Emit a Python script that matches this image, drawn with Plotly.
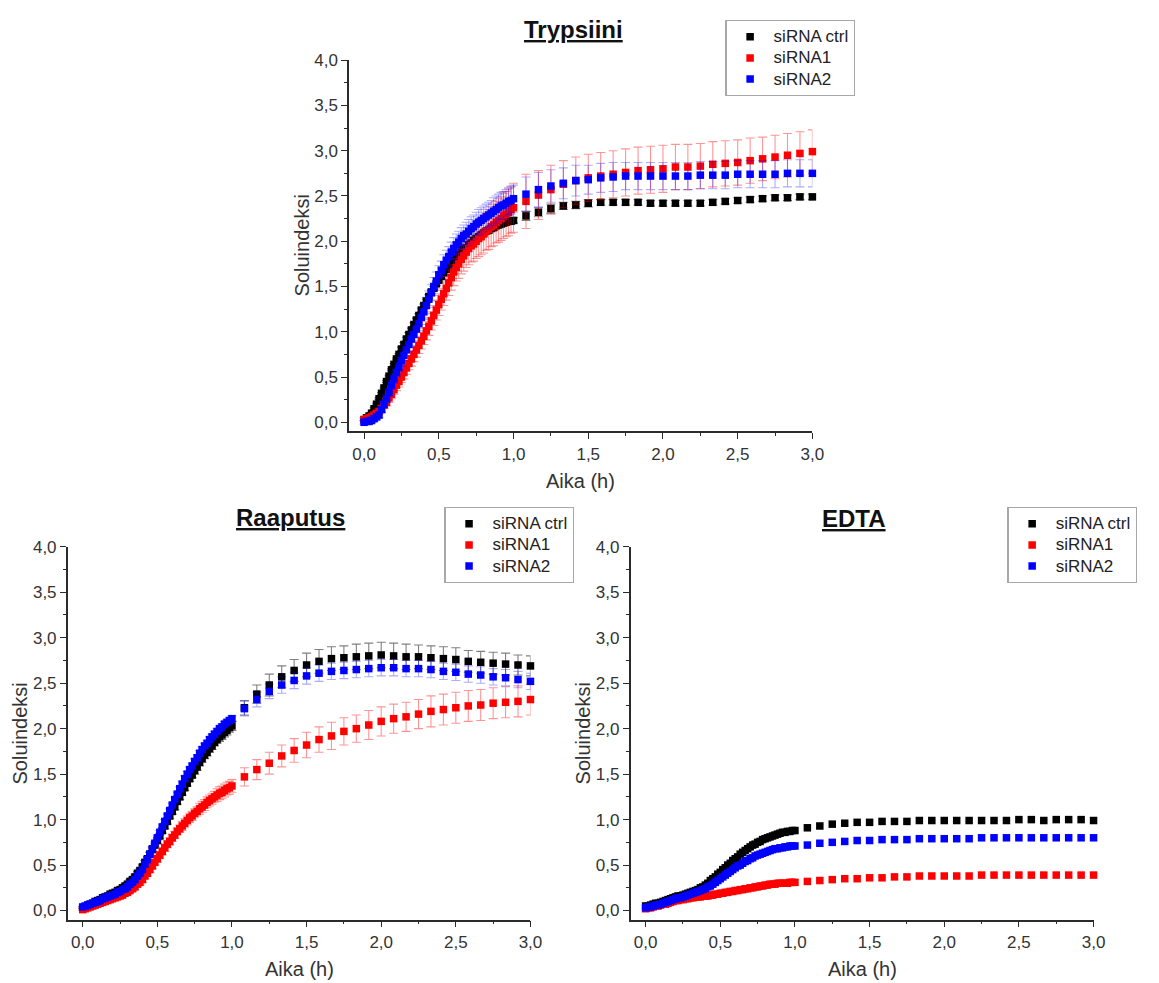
import plotly.graph_objects as go

# ---------------- data ----------------
DENSE_MIN = list(range(0, 61))          # 1-min sweeps during first hour
SPARSE_MIN = list(range(65, 181, 5))    # 5-min sweeps afterwards
TIME_H = [m / 60 for m in DENSE_MIN + SPARSE_MIN]

SERIES_NAMES = ["siRNA ctrl", "siRNA1", "siRNA2"]
PANEL_TITLES = ["Trypsiini", "Raaputus", "EDTA"]
X_LABEL = "Aika (h)"
Y_LABEL = "Soluindeksi"

# --- Trypsiini ---
TRYP_CTRL = [0.03, 0.05, 0.07, 0.10, 0.15, 0.20, 0.26, 0.32, 0.38, 0.45,
             0.51, 0.58, 0.64, 0.70, 0.75, 0.81, 0.86, 0.92, 0.97, 1.02,
             1.08, 1.13, 1.18, 1.24, 1.29, 1.34, 1.39, 1.44, 1.48, 1.53,
             1.57, 1.61, 1.65, 1.69, 1.72, 1.76, 1.79, 1.82, 1.85, 1.88,
             1.91, 1.93, 1.96, 1.98, 2.01, 2.03, 2.05, 2.07, 2.09, 2.11,
             2.12, 2.14, 2.15, 2.17, 2.18, 2.19, 2.20, 2.21, 2.22, 2.22,
             2.23,
             2.28, 2.32, 2.36, 2.39, 2.40, 2.42, 2.43, 2.43, 2.43, 2.43, 2.42, 2.42,
             2.42, 2.42, 2.42, 2.43, 2.44, 2.45, 2.46, 2.47, 2.48, 2.48, 2.49, 2.49]
TRYP_CTRL_ERR = [0.01, 0.01, 0.01, 0.01, 0.01, 0.01, 0.01, 0.01, 0.01, 0.01,
                 0.01, 0.01, 0.01, 0.01, 0.01, 0.02, 0.02, 0.02, 0.02, 0.02,
                 0.02, 0.02, 0.02, 0.02, 0.02, 0.02, 0.02, 0.02, 0.02, 0.02,
                 0.02, 0.02, 0.02, 0.02, 0.02, 0.03, 0.03, 0.03, 0.03, 0.03,
                 0.03, 0.03, 0.03, 0.03, 0.03, 0.03, 0.03, 0.03, 0.03, 0.03,
                 0.03, 0.03, 0.03, 0.03, 0.03, 0.03, 0.03, 0.03, 0.03, 0.03,
                 0.03,
                 0.05, 0.05, 0.05, 0.04, 0.04, 0.04, 0.03, 0.03, 0.03, 0.03, 0.03, 0.03,
                 0.03, 0.03, 0.03, 0.03, 0.03, 0.03, 0.03, 0.03, 0.03, 0.03, 0.03, 0.03]
TRYP_SI1 = [0.03, 0.04, 0.05, 0.06, 0.08, 0.10, 0.12, 0.15, 0.19, 0.22,
            0.27, 0.31, 0.36, 0.41, 0.45, 0.50, 0.55, 0.60, 0.65, 0.70,
            0.75, 0.80, 0.85, 0.90, 0.95, 1.01, 1.06, 1.12, 1.18, 1.24,
            1.30, 1.36, 1.42, 1.48, 1.54, 1.60, 1.66, 1.71, 1.75, 1.80,
            1.84, 1.88, 1.92, 1.95, 1.97, 2.00, 2.03, 2.05, 2.08, 2.11,
            2.13, 2.16, 2.18, 2.21, 2.23, 2.25, 2.28, 2.30, 2.32, 2.35,
            2.37,
            2.44, 2.51, 2.57, 2.63, 2.67, 2.70, 2.72, 2.74, 2.76, 2.78, 2.79, 2.80,
            2.82, 2.82, 2.83, 2.85, 2.86, 2.87, 2.89, 2.91, 2.93, 2.95, 2.97, 2.99]
TRYP_SI1_ERR = [0.02, 0.02, 0.02, 0.03, 0.03, 0.03, 0.03, 0.04, 0.04, 0.04,
                0.05, 0.05, 0.05, 0.06, 0.06, 0.06, 0.07, 0.07, 0.07, 0.08,
                0.08, 0.08, 0.09, 0.09, 0.09, 0.10, 0.10, 0.10, 0.11, 0.11,
                0.12, 0.12, 0.13, 0.13, 0.14, 0.14, 0.15, 0.15, 0.16, 0.16,
                0.17, 0.17, 0.18, 0.18, 0.19, 0.19, 0.20, 0.20, 0.21, 0.21,
                0.22, 0.22, 0.23, 0.23, 0.24, 0.24, 0.25, 0.25, 0.26, 0.26,
                0.27,
                0.30, 0.27, 0.27, 0.26, 0.26, 0.26, 0.26, 0.26, 0.26, 0.26, 0.26, 0.26,
                0.25, 0.25, 0.25, 0.25, 0.25, 0.25, 0.25, 0.24, 0.24, 0.24, 0.24, 0.24]
TRYP_SI2 = [0.00, 0.01, 0.01, 0.02, 0.04, 0.06, 0.08, 0.14, 0.20, 0.26,
            0.33, 0.41, 0.48, 0.55, 0.61, 0.68, 0.74, 0.80, 0.86, 0.92,
            0.97, 1.03, 1.09, 1.16, 1.22, 1.29, 1.36, 1.43, 1.50, 1.56,
            1.63, 1.68, 1.74, 1.79, 1.83, 1.88, 1.92, 1.96, 1.99, 2.03,
            2.06, 2.08, 2.11, 2.14, 2.16, 2.19, 2.21, 2.23, 2.25, 2.27,
            2.29, 2.31, 2.33, 2.35, 2.37, 2.39, 2.40, 2.42, 2.44, 2.45,
            2.47,
            2.52, 2.57, 2.61, 2.64, 2.67, 2.68, 2.70, 2.71, 2.72, 2.72, 2.72, 2.72,
            2.72, 2.72, 2.73, 2.73, 2.73, 2.74, 2.74, 2.74, 2.74, 2.75, 2.75, 2.75]
TRYP_SI2_ERR = [0.02, 0.02, 0.02, 0.02, 0.03, 0.03, 0.03, 0.03, 0.04, 0.04,
                0.04, 0.05, 0.05, 0.05, 0.05, 0.06, 0.06, 0.06, 0.07, 0.07,
                0.07, 0.08, 0.08, 0.08, 0.08, 0.09, 0.09, 0.09, 0.10, 0.10,
                0.10, 0.10, 0.11, 0.11, 0.11, 0.11, 0.12, 0.12, 0.12, 0.12,
                0.12, 0.13, 0.13, 0.13, 0.13, 0.13, 0.14, 0.14, 0.14, 0.14,
                0.14, 0.14, 0.15, 0.15, 0.15, 0.15, 0.15, 0.15, 0.15, 0.15,
                0.15,
                0.19, 0.19, 0.18, 0.17, 0.17, 0.16, 0.16, 0.16, 0.15, 0.15, 0.15, 0.15,
                0.15, 0.15, 0.15, 0.15, 0.15, 0.15, 0.15, 0.15, 0.15, 0.15, 0.15, 0.15]

# --- Raaputus ---
RAAP_CTRL = [0.03, 0.04, 0.06, 0.07, 0.08, 0.10, 0.11, 0.12, 0.14, 0.15,
             0.16, 0.18, 0.19, 0.20, 0.22, 0.23, 0.25, 0.27, 0.29, 0.32,
             0.34, 0.37, 0.41, 0.44, 0.48, 0.53, 0.57, 0.62, 0.67, 0.72,
             0.77, 0.82, 0.88, 0.93, 0.98, 1.04, 1.09, 1.14, 1.20, 1.25,
             1.30, 1.35, 1.40, 1.45, 1.49, 1.54, 1.58, 1.63, 1.67, 1.71,
             1.74, 1.78, 1.81, 1.85, 1.88, 1.91, 1.93, 1.96, 1.98, 2.01,
             2.03,
             2.23, 2.38, 2.48, 2.57, 2.64, 2.70, 2.74, 2.77, 2.78, 2.79, 2.80, 2.81,
             2.80, 2.79, 2.79, 2.78, 2.77, 2.76, 2.74, 2.73, 2.72, 2.71, 2.70, 2.69]
RAAP_CTRL_ERR = [0.01, 0.01, 0.01, 0.01, 0.01, 0.01, 0.01, 0.01, 0.01, 0.01,
                 0.01, 0.01, 0.01, 0.01, 0.01, 0.02, 0.02, 0.02, 0.02, 0.02,
                 0.02, 0.02, 0.02, 0.02, 0.02, 0.02, 0.02, 0.02, 0.02, 0.02,
                 0.03, 0.03, 0.03, 0.03, 0.03, 0.03, 0.03, 0.03, 0.03, 0.03,
                 0.03, 0.03, 0.03, 0.03, 0.03, 0.04, 0.04, 0.04, 0.04, 0.04,
                 0.04, 0.04, 0.04, 0.04, 0.04, 0.05, 0.05, 0.05, 0.05, 0.05,
                 0.05,
                 0.08, 0.10, 0.12, 0.12, 0.12, 0.13, 0.13, 0.13, 0.13, 0.14, 0.14, 0.14,
                 0.14, 0.14, 0.13, 0.13, 0.13, 0.13, 0.12, 0.12, 0.12, 0.12, 0.11, 0.11]
RAAP_SI1 = [0.01, 0.02, 0.03, 0.04, 0.05, 0.06, 0.07, 0.08, 0.09, 0.10,
            0.11, 0.12, 0.13, 0.14, 0.15, 0.16, 0.17, 0.19, 0.20, 0.22,
            0.24, 0.26, 0.29, 0.31, 0.34, 0.38, 0.41, 0.45, 0.49, 0.53,
            0.57, 0.61, 0.65, 0.69, 0.73, 0.76, 0.80, 0.83, 0.87, 0.90,
            0.93, 0.96, 0.99, 1.02, 1.04, 1.07, 1.09, 1.12, 1.14, 1.16,
            1.19, 1.21, 1.23, 1.25, 1.27, 1.29, 1.30, 1.32, 1.34, 1.35,
            1.37,
            1.47, 1.55, 1.62, 1.70, 1.76, 1.82, 1.88, 1.92, 1.97, 2.00, 2.04, 2.08,
            2.11, 2.13, 2.16, 2.19, 2.21, 2.23, 2.25, 2.26, 2.28, 2.29, 2.30, 2.32]
RAAP_SI1_ERR = [0.01, 0.01, 0.01, 0.01, 0.01, 0.01, 0.01, 0.01, 0.01, 0.01,
                0.02, 0.02, 0.02, 0.02, 0.02, 0.02, 0.02, 0.02, 0.02, 0.02,
                0.03, 0.03, 0.03, 0.03, 0.03, 0.03, 0.03, 0.03, 0.03, 0.03,
                0.04, 0.04, 0.04, 0.04, 0.04, 0.04, 0.04, 0.04, 0.04, 0.04,
                0.05, 0.05, 0.05, 0.05, 0.05, 0.05, 0.05, 0.06, 0.06, 0.06,
                0.06, 0.06, 0.06, 0.06, 0.07, 0.07, 0.07, 0.07, 0.07, 0.07,
                0.07,
                0.10, 0.11, 0.12, 0.12, 0.13, 0.14, 0.14, 0.15, 0.15, 0.15, 0.16, 0.16,
                0.16, 0.16, 0.16, 0.17, 0.17, 0.17, 0.17, 0.17, 0.17, 0.17, 0.17, 0.17]
RAAP_SI2 = [0.04, 0.05, 0.06, 0.07, 0.08, 0.09, 0.10, 0.11, 0.13, 0.14,
            0.15, 0.16, 0.17, 0.18, 0.20, 0.21, 0.23, 0.24, 0.26, 0.29,
            0.31, 0.34, 0.38, 0.41, 0.45, 0.51, 0.56, 0.62, 0.68, 0.74,
            0.80, 0.86, 0.92, 0.98, 1.04, 1.10, 1.16, 1.22, 1.28, 1.34,
            1.39, 1.45, 1.50, 1.55, 1.59, 1.64, 1.68, 1.73, 1.77, 1.81,
            1.84, 1.88, 1.91, 1.94, 1.97, 2.00, 2.02, 2.05, 2.07, 2.09,
            2.11,
            2.22, 2.32, 2.41, 2.48, 2.53, 2.58, 2.61, 2.63, 2.64, 2.65, 2.66, 2.67,
            2.67, 2.66, 2.66, 2.65, 2.63, 2.62, 2.60, 2.59, 2.57, 2.56, 2.54, 2.52]
RAAP_SI2_ERR = [0.01, 0.01, 0.01, 0.01, 0.01, 0.01, 0.01, 0.01, 0.01, 0.01,
                0.01, 0.01, 0.01, 0.01, 0.01, 0.01, 0.01, 0.01, 0.01, 0.01,
                0.02, 0.02, 0.02, 0.02, 0.02, 0.02, 0.02, 0.02, 0.02, 0.02,
                0.02, 0.02, 0.02, 0.02, 0.02, 0.02, 0.02, 0.02, 0.02, 0.02,
                0.03, 0.03, 0.03, 0.03, 0.03, 0.03, 0.03, 0.03, 0.03, 0.03,
                0.03, 0.03, 0.03, 0.03, 0.03, 0.03, 0.03, 0.03, 0.03, 0.03,
                0.03,
                0.08, 0.08, 0.08, 0.09, 0.09, 0.09, 0.09, 0.09, 0.09, 0.09, 0.09, 0.09,
                0.09, 0.09, 0.09, 0.09, 0.09, 0.09, 0.09, 0.09, 0.09, 0.09, 0.09, 0.09]

# --- EDTA ---
EDTA_CTRL = [0.05, 0.05, 0.06, 0.07, 0.08, 0.08, 0.09, 0.10, 0.11, 0.12,
             0.13, 0.14, 0.15, 0.16, 0.16, 0.17, 0.18, 0.19, 0.20, 0.21,
             0.22, 0.23, 0.25, 0.26, 0.28, 0.30, 0.33, 0.35, 0.37, 0.40,
             0.42, 0.45, 0.47, 0.50, 0.52, 0.55, 0.57, 0.59, 0.62, 0.64,
             0.66, 0.68, 0.70, 0.72, 0.73, 0.75, 0.76, 0.78, 0.79, 0.80,
             0.81, 0.82, 0.83, 0.84, 0.85, 0.86, 0.86, 0.87, 0.87, 0.88,
             0.88,
             0.91, 0.93, 0.95, 0.96, 0.97, 0.97, 0.98, 0.98, 0.98, 0.99, 0.99, 0.99,
             0.99, 0.99, 0.99, 0.99, 0.99, 1.00, 1.00, 0.99, 1.00, 1.00, 1.00, 0.99]
EDTA_SI1 = [0.02, 0.03, 0.03, 0.04, 0.05, 0.05, 0.06, 0.07, 0.07, 0.08,
            0.09, 0.10, 0.11, 0.11, 0.12, 0.12, 0.13, 0.13, 0.14, 0.14,
            0.15, 0.15, 0.15, 0.16, 0.16, 0.16, 0.17, 0.17, 0.18, 0.18,
            0.19, 0.19, 0.20, 0.20, 0.21, 0.21, 0.22, 0.22, 0.23, 0.23,
            0.24, 0.24, 0.25, 0.25, 0.26, 0.26, 0.27, 0.27, 0.28, 0.28,
            0.29, 0.29, 0.29, 0.30, 0.30, 0.30, 0.30, 0.30, 0.31, 0.31,
            0.31,
            0.32, 0.33, 0.34, 0.35, 0.35, 0.36, 0.36, 0.37, 0.37, 0.38, 0.38, 0.38,
            0.38, 0.38, 0.39, 0.39, 0.39, 0.39, 0.39, 0.39, 0.39, 0.39, 0.39, 0.39]
EDTA_SI2 = [0.03, 0.04, 0.04, 0.05, 0.06, 0.06, 0.07, 0.08, 0.09, 0.10,
            0.11, 0.12, 0.13, 0.14, 0.14, 0.15, 0.16, 0.17, 0.18, 0.19,
            0.20, 0.21, 0.22, 0.23, 0.24, 0.26, 0.27, 0.29, 0.31, 0.33,
            0.35, 0.37, 0.39, 0.41, 0.43, 0.45, 0.47, 0.49, 0.50, 0.52,
            0.54, 0.55, 0.57, 0.58, 0.60, 0.61, 0.62, 0.63, 0.64, 0.65,
            0.66, 0.67, 0.68, 0.68, 0.69, 0.69, 0.70, 0.70, 0.71, 0.71,
            0.71,
            0.72, 0.74, 0.75, 0.76, 0.77, 0.77, 0.78, 0.78, 0.78, 0.79, 0.79, 0.79,
            0.79, 0.79, 0.80, 0.80, 0.80, 0.80, 0.80, 0.80, 0.80, 0.80, 0.80, 0.80]

PANELS = [
    [(TRYP_CTRL, TRYP_CTRL_ERR), (TRYP_SI1, TRYP_SI1_ERR), (TRYP_SI2, TRYP_SI2_ERR)],
    [(RAAP_CTRL, RAAP_CTRL_ERR), (RAAP_SI1, RAAP_SI1_ERR), (RAAP_SI2, RAAP_SI2_ERR)],
    [(EDTA_CTRL, None), (EDTA_SI1, None), (EDTA_SI2, None)],
]
for panel in PANELS:
    for vals, errs in panel:
        assert len(vals) == len(TIME_H), len(vals)
        if errs is not None:
            assert len(errs) == len(TIME_H), len(errs)

# ---------------- styling ----------------
W, H = 1159, 983
FONT = "Arial, Liberation Sans, sans-serif"
MARKER_COLORS = ["#000000", "#ff0000", "#0000ff"]
ERR_COLORS = ["rgba(0,0,0,0.5)", "rgba(255,0,0,0.42)", "rgba(0,0,255,0.33)"]
AX_COLOR = "#2b2b2b"
TXT_COLOR = "#333333"

# plot areas in pixels: (x0, x1, ytop, ybottom)
AREAS = [(352.8, 820.9, 51.7, 426.7),
         (68.5, 536.0, 543.3, 920.0),
         (637.3, 1105.0, 543.3, 920.0)]
LEGEND_POS = [(733, 11), (449, 503), (1018, 503)]
TITLE_POS = [(579, 21), (294, 514), (863, 515)]
LEGEND_IDS = ["legend", "legend2", "legend3"]

fig = go.Figure()

for p, panel in enumerate(PANELS):
    suffix = "" if p == 0 else str(p + 1)
    for s, (vals, errs) in enumerate(panel):
        err = dict(visible=False)
        if errs is not None:
            err = dict(type="data", array=errs, visible=True,
                       color=ERR_COLORS[s], thickness=1.1, width=4.5)
        fig.add_trace(go.Scatter(
            x=TIME_H, y=vals, mode="markers",
            name="<span style='font-size:17px'>" + SERIES_NAMES[s] + "</span>",
            marker=dict(symbol="square", size=7.5, color=MARKER_COLORS[s],
                        line=dict(width=0)),
            error_y=err, cliponaxis=False,
            xaxis="x" + suffix, yaxis="y" + suffix,
            legend=LEGEND_IDS[p], showlegend=True,
        ))

layout = dict(
    width=W, height=H, autosize=False,
    margin=dict(l=0, r=0, t=0, b=0),
    paper_bgcolor="white", plot_bgcolor="white",
    separators=",.",
    font=dict(family=FONT, color=TXT_COLOR, size=17),
    annotations=[],
)

for p, (x0, x1, yt, yb) in enumerate(AREAS):
    suffix = "" if p == 0 else str(p + 1)
    common = dict(showline=True, linecolor=AX_COLOR, linewidth=1.6, mirror=False,
                  showgrid=False, zeroline=False, ticks="outside", ticklen=6,
                  tickwidth=1.4, tickcolor=AX_COLOR, tickformat=".1f",
                  tickfont=dict(size=17, color=TXT_COLOR, family=FONT))
    layout["xaxis" + suffix] = dict(
        common, domain=[x0 / W, x1 / W], range=[-0.1, 3.0], dtick=0.5, tick0=0,
        anchor="y" + suffix,
        minor=dict(ticks="outside", ticklen=3, dtick=0.25, tick0=0,
                   tickcolor=AX_COLOR, tickwidth=1.2, showgrid=False))
    layout["yaxis" + suffix] = dict(
        common, domain=[1 - yb / H, 1 - yt / H], range=[-0.1, 4.0], dtick=0.5, tick0=0,
        anchor="x" + suffix,
        minor=dict(ticks="outside", ticklen=3, dtick=0.25, tick0=0,
                   tickcolor=AX_COLOR, tickwidth=1.2, showgrid=False))

    lx, ly = LEGEND_POS[p]
    layout[LEGEND_IDS[p]] = dict(
        x=lx / W, y=1 - ly / H, xanchor="left", yanchor="top",
        bgcolor="white", bordercolor="#a8a8a8", borderwidth=1.2,
        font=dict(size=14, color="#222222", family=FONT),
        tracegroupgap=0, itemwidth=37)

    tx, ty = TITLE_POS[p]
    layout["annotations"].append(dict(
        text="<b><u>" + PANEL_TITLES[p] + "</u></b>", xref="paper", yref="paper",
        x=tx / W, y=1 - ty / H, xanchor="center", yanchor="middle",
        showarrow=False, font=dict(size=24, color="#111111", family=FONT)))
    # axis titles
    layout["annotations"].append(dict(
        text=X_LABEL, xref="paper", yref="paper",
        x=(x0 + x1) / 2 / W, y=1 - (yb + 50) / H, xanchor="center", yanchor="middle",
        showarrow=False, font=dict(size=20, color=TXT_COLOR, family=FONT)))
    layout["annotations"].append(dict(
        text=Y_LABEL, xref="paper", yref="paper", textangle=-90,
        x=(x0 - 48) / W, y=1 - (yt + yb) / 2 / H, xanchor="center", yanchor="middle",
        showarrow=False, font=dict(size=20, color=TXT_COLOR, family=FONT)))

fig.update_layout(layout)
fig.write_html("out.html",
               config={"displayModeBar": False},
               post_script="document.body.style.margin='0';"
                           "document.body.style.overflow='hidden';")
